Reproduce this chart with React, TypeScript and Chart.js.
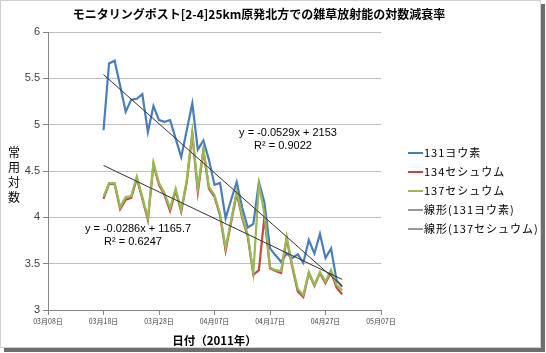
import React, { useEffect, useRef } from "react";
import { Chart, registerables } from "chart.js";

Chart.register(...registerables);

// ---- data ----
const dates = [
  "3/18", "3/19", "3/20", "3/21", "3/22", "3/23", "3/24", "3/25", "3/26", "3/27",
  "3/28", "3/29", "3/30", "3/31", "4/1", "4/2", "4/3", "4/4", "4/5", "4/6",
  "4/7", "4/8", "4/9", "4/10", "4/11", "4/12", "4/13", "4/14", "4/15", "4/16",
  "4/17", "4/18", "4/19", "4/20", "4/21", "4/22", "4/23", "4/24", "4/25", "4/26",
  "4/27", "4/28", "4/29", "4/30",
];
const iodine131 = [
  4.94, 5.66, 5.69, 5.42, 5.14, 5.27, 5.28, 5.33, 4.92, 5.2,
  5.05, 5.03, 5.05, 4.85, 4.65, 4.94, 5.23, 4.73, 4.83, 4.62,
  4.35, 4.37, 3.99, 4.19, 4.38, 4.1, 3.89, 3.93, 4.38, 4.16,
  3.665, 3.59, 3.52, 3.61, 3.56, 3.6, 3.51, 3.755, 3.61, 3.82,
  3.56, 3.665, 3.32, 3.25,
];
const cesium134 = [
  4.2, 4.36, 4.36, 4.09, 4.19, 4.21, 4.42, 4.2, 3.97, 4.57,
  4.35, 4.24, 4.07, 4.29, 4.06, 4.38, 4.9, 4.27, 4.72, 4.31,
  4.22, 4.02, 3.64, 3.95, 4.26, 3.99, 3.79, 3.38, 3.43, 4.01,
  3.45, 3.42, 3.4, 3.77, 3.47, 3.2, 3.14, 3.4, 3.26, 3.4,
  3.29, 3.41, 3.24, 3.17,
];
const cesium137 = [
  4.22, 4.37, 4.37, 4.11, 4.22, 4.23, 4.44, 4.22, 3.99, 4.59,
  4.37, 4.26, 4.1, 4.31, 4.08, 4.4, 4.92, 4.31, 4.74, 4.33,
  4.24, 4.04, 3.67, 3.97, 4.28, 4.01, 3.81, 3.4, 4.35, 4.04,
  3.46, 3.43, 3.42, 3.79, 3.485, 3.23, 3.16, 3.41, 3.27, 3.41,
  3.305, 3.43, 3.27, 3.21,
];
const trendDates = ["3/18", "4/30"];
const trend131 = [5.54, 3.26];
const trend137 = [4.56, 3.33];

const axisStart = "3/8";
const axisEnd = "5/7";
const xStepDays = 10;
const yMin = 3;
const yMax = 6;
const yStep = 0.5;

const title = "モニタリングポスト[2-4]25km原発北方での雑草放射能の対数減衰率";
const yTitle = ["常", "用", "対", "数"];
const xTitle = "日付（2011年）";
const eq131 = ["y = -0.0529x + 2153", "R² = 0.9022"];
const eq137 = ["y = -0.0286x + 1165.7", "R² = 0.6247"];
const legendItems = [
  { label: "131ヨウ素", color: "#4A7EBB" },
  { label: "134セシュウム", color: "#BE4B48" },
  { label: "137セシュウム", color: "#98B954" },
  { label: "線形(131ヨウ素)", color: "#333333" },
  { label: "線形(137セシュウム)", color: "#333333" },
];

// ---- helpers ----
const dayIndex = (s: string) => {
  const [m, d] = s.split("/").map(Number);
  const [m0, d0] = axisStart.split("/").map(Number);
  return Math.round((Date.UTC(2011, m - 1, d) - Date.UTC(2011, m0 - 1, d0)) / 86400000);
};
const toPoints = (ds: string[], vs: number[]) => ds.map((d, i) => ({ x: dayIndex(d), y: vs[i] }));
const fmtTick = (v: number) => {
  const [m0, d0] = axisStart.split("/").map(Number);
  const dt = new Date(Date.UTC(2011, m0 - 1, d0 + v));
  const mm = String(dt.getUTCMonth() + 1).padStart(2, "0");
  const dd = String(dt.getUTCDate()).padStart(2, "0");
  return `${mm}月${dd}日`;
};

const JP = '"Noto Sans CJK JP", "Noto Sans", sans-serif';
const LAT = '"Liberation Sans", Arial, sans-serif';

const textPlugin = {
  id: "texts",
  beforeDraw(chart: any) {
    const ctx = chart.ctx;
    ctx.save();
    ctx.fillStyle = "#ffffff";
    ctx.fillRect(0, 0, 541, 348);
    ctx.fillStyle = "#6e6e6e";
    ctx.fillRect(541, 4, 4, 348);
    ctx.fillRect(4, 348, 541, 4);
    ctx.strokeStyle = "#d0d0d0";
    ctx.lineWidth = 1;
    ctx.strokeRect(0.5, 0.5, 540, 347);
    ctx.restore();
  },
  afterDraw(chart: any) {
    const ctx = chart.ctx;
    const area = chart.chartArea;
    ctx.save();
    ctx.fillStyle = "#000";
    ctx.textBaseline = "middle";
    ctx.font = `bold 12px ${JP}`;
    ctx.textAlign = "center";
    ctx.fillText(title, 259, 14);
    ctx.font = `12px ${JP}`;
    yTitle.forEach((c, i) => ctx.fillText(c, 14, 152 + i * 15));
    ctx.font = `bold 11.5px ${JP}`;
    ctx.fillText(xTitle, (area.left + area.right) / 2, 341);
    ctx.font = `11px ${LAT}`;
    ctx.fillText(eq131[0], 288, 133);
    ctx.fillText(eq131[1], 283, 146);
    ctx.fillText(eq137[0], 138, 229);
    ctx.fillText(eq137[1], 133, 242);
    ctx.font = `11px ${JP}`;
    ctx.textAlign = "left";
    try { (ctx as any).letterSpacing = "1px"; } catch (e) {}
    legendItems.forEach((it, i) => {
      const y = 153 + i * 19;
      ctx.strokeStyle = it.color;
      ctx.lineWidth = it.color === "#333333" ? 1 : 2;
      ctx.beginPath();
      ctx.moveTo(408, y);
      ctx.lineTo(423, y);
      ctx.stroke();
      ctx.fillText(it.label, 424, y);
    });
    ctx.restore();
  },
};

export default function App() {
  const ref = useRef<HTMLCanvasElement | null>(null);
  useEffect(() => {
    if (!ref.current) return;
    const chart = new Chart(ref.current, {
      type: "line",
      data: {
        datasets: [
          {
            label: "線形(131ヨウ素)",
            data: toPoints(trendDates, trend131),
            borderColor: "#333333",
            borderWidth: 1,
            pointRadius: 0,
            order: 0,
          },
          {
            label: "線形(137セシュウム)",
            data: toPoints(trendDates, trend137),
            borderColor: "#333333",
            borderWidth: 1,
            pointRadius: 0,
            order: 0,
          },
          {
            label: "137セシュウム",
            data: toPoints(dates, cesium137),
            borderColor: "#98B954",
            borderWidth: 2.2,
            pointRadius: 0,
            order: 1,
          },
          {
            label: "134セシュウム",
            data: toPoints(dates, cesium134),
            borderColor: "#BE4B48",
            borderWidth: 2.2,
            pointRadius: 0,
            order: 2,
          },
          {
            label: "131ヨウ素",
            data: toPoints(dates, iodine131),
            borderColor: "#4A7EBB",
            borderWidth: 2.2,
            pointRadius: 0,
            order: 3,
          },
        ],
      },
      options: {
        animation: false,
        responsive: false,
        devicePixelRatio: 1,
        parsing: false as any,
        layout: { padding: { top: 32, right: 165, bottom: 0, left: 0 } },
        plugins: { legend: { display: false }, tooltip: { enabled: false }, title: { display: false } },
        scales: {
          x: {
            type: "linear",
            min: dayIndex(axisStart),
            max: dayIndex(axisEnd),
            afterFit: (s: any) => { s.height = 43; },
            ticks: {
              stepSize: xStepDays,
              callback: (v: any) => fmtTick(Number(v)),
              font: { family: JP, size: 7 },
              color: "#404040",
              padding: 2,
              maxRotation: 0,
              autoSkip: false,
            },
            grid: { drawOnChartArea: false, drawTicks: true, tickLength: 5, color: "#868686" },
            border: { color: "#868686" },
          },
          y: {
            type: "linear",
            min: yMin,
            max: yMax,
            afterFit: (s: any) => { s.width = 48; },
            ticks: {
              stepSize: yStep,
              callback: (v: any) => String(Number(v)),
              font: { family: LAT, size: 11 },
              color: "#404040",
              padding: 3,
            },
            grid: { color: "#BFBFBF", tickLength: 5, tickColor: "#868686" },
            border: { color: "#868686" },
          },
        },
      },
      plugins: [textPlugin],
    });
    return () => chart.destroy();
  }, []);
  return (
    <div style={{ position: "absolute", left: 0, top: 0, width: 546, height: 353 }}>
      <canvas ref={ref} width={546} height={353} style={{ display: "block" }} />
    </div>
  );
}
